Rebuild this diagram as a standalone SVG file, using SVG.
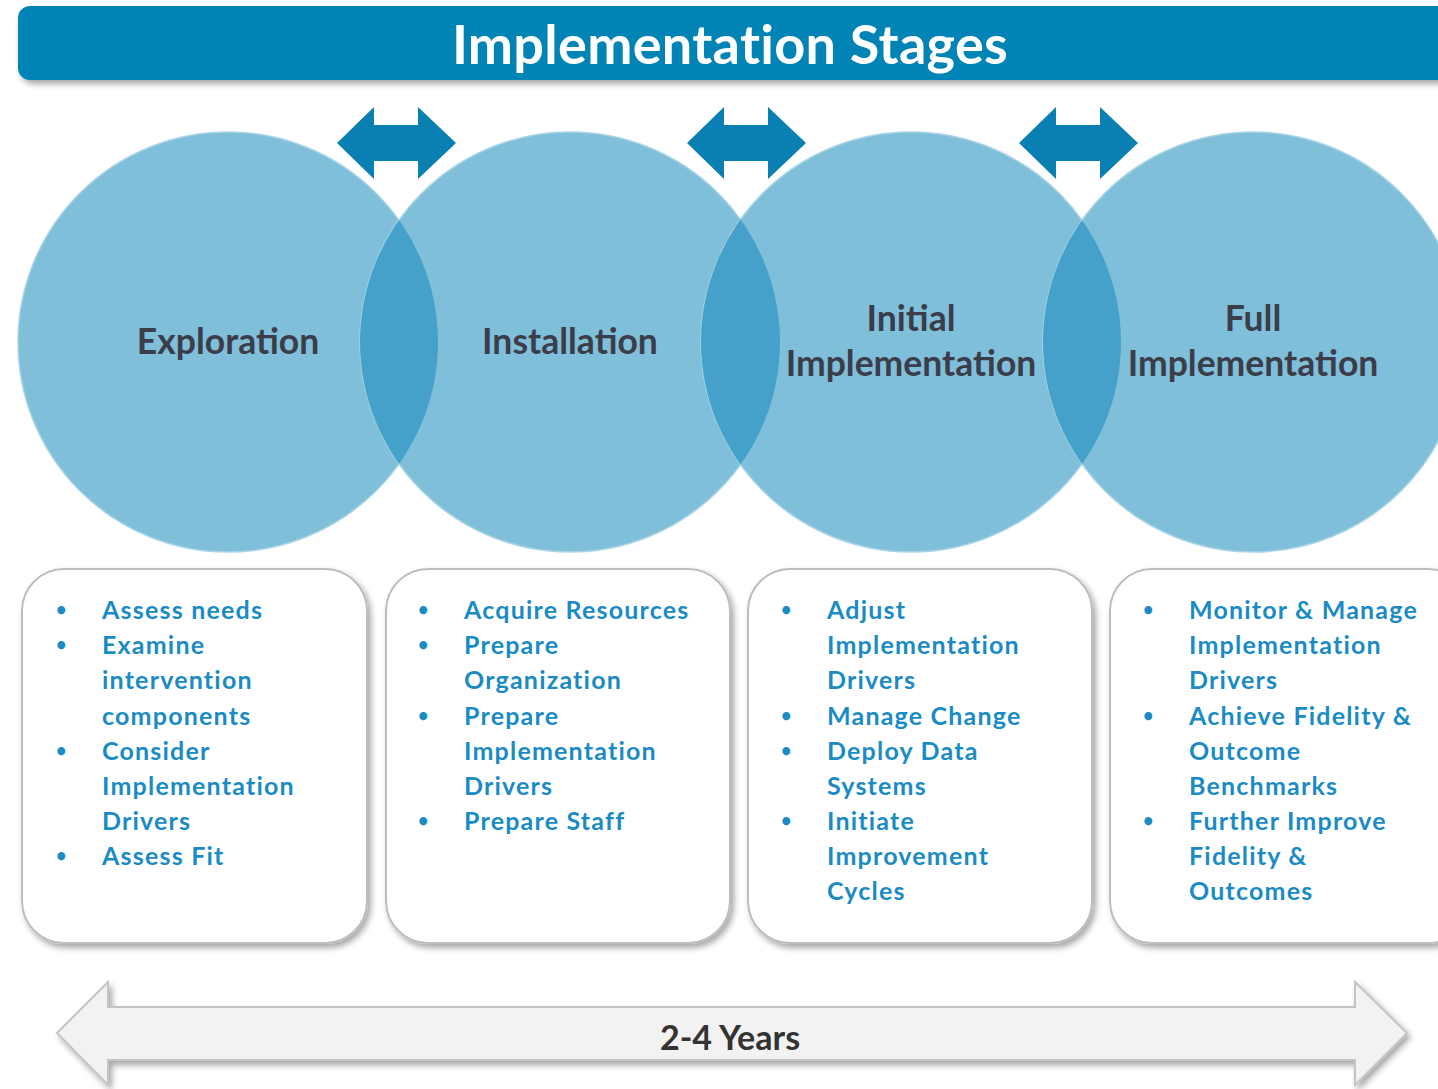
<svg xmlns="http://www.w3.org/2000/svg" width="1438" height="1089" viewBox="0 0 1438 1089">
<defs>
<style>
.hdr{font-family:Lato,"Open Sans",sans-serif;font-weight:bold;font-size:54px;fill:#ffffff;letter-spacing:0.3px}
.clab{font-family:Lato,"Open Sans",sans-serif;font-weight:bold;font-size:35.5px;fill:#3b3d4a;text-anchor:middle}
.item{font-family:Lato,"Open Sans",sans-serif;font-weight:bold;font-size:25px;fill:#1a8bc3;letter-spacing:1.2px}
.bul{font-family:Lato,"Open Sans",sans-serif;font-weight:bold;font-size:18px;fill:#1a8bc3}
.yrs{font-family:Lato,"Open Sans",sans-serif;font-weight:bold;font-size:34px;fill:#333333;text-anchor:middle}
.circ{fill:#80bfd9;stroke:#a8d4e6;stroke-width:1.5}
.lens{fill:#45a1ca}
.dbl{fill:#0a80b2}
.box{fill:#ffffff;stroke:#bdbdbd;stroke-width:2}
</style>
<filter id="sh" x="-10%" y="-10%" width="130%" height="130%">
<feGaussianBlur in="SourceAlpha" stdDeviation="3"/>
<feOffset dx="3" dy="4" result="b"/>
<feComponentTransfer><feFuncA type="linear" slope="0.35"/></feComponentTransfer>
<feMerge><feMergeNode/><feMergeNode in="SourceGraphic"/></feMerge>
</filter>
<clipPath id="c1"><circle cx="228" cy="342" r="210"/></clipPath>
<clipPath id="c2"><circle cx="570" cy="342" r="210"/></clipPath>
<clipPath id="c3"><circle cx="911" cy="342" r="210"/></clipPath>
<path id="dblarrow" d="M0,36 L37,0 L37,18 L81,18 L81,0 L119,36 L81,72 L81,54 L37,54 L37,72 Z"/>
</defs>
<rect width="1438" height="1089" fill="#ffffff"/>

<g id="header">
<rect x="18" y="6" width="1440" height="74" rx="12" fill="#0083b5" filter="url(#sh)"/>
<text class="hdr" x="730" y="64" text-anchor="middle">Implementation Stages</text>
</g>

<g id="circles">
<g id="exploration">
<circle class="circ" cx="228" cy="342" r="210"/>
</g>
<g id="installation">
<circle class="circ" cx="570" cy="342" r="210"/>
</g>
<g id="initial">
<circle class="circ" cx="911" cy="342" r="210"/>
</g>
<g id="full">
<circle class="circ" cx="1253" cy="342" r="210"/>
</g>
<circle class="lens" cx="570" cy="342" r="210" clip-path="url(#c1)"/>
<circle class="lens" cx="911" cy="342" r="210" clip-path="url(#c2)"/>
<circle class="lens" cx="1253" cy="342" r="210" clip-path="url(#c3)"/>
<text class="clab" x="228" y="354">Exploration</text>
<text class="clab" x="570" y="354">Installation</text>
<text class="clab" x="911" y="331">Initial</text>
<text class="clab" x="911" y="376">Implementation</text>
<text class="clab" x="1253" y="331">Full</text>
<text class="clab" x="1253" y="376">Implementation</text>
</g>

<g id="connectors">
<use href="#dblarrow" class="dbl" x="337" y="107"/>
<use href="#dblarrow" class="dbl" x="687" y="107"/>
<use href="#dblarrow" class="dbl" x="1019" y="107"/>
</g>

<g id="box1">
<rect class="box" x="22" y="569" width="345" height="374" rx="42" filter="url(#sh)"/>
<g class="bul">
<text x="56" y="616">•</text><text x="56" y="651">•</text><text x="56" y="757">•</text><text x="56" y="862">•</text>
</g>
<g class="item">
<text x="102" y="619">Assess needs</text>
<text x="102" y="654">Examine</text>
<text x="102" y="689">intervention</text>
<text x="102" y="725">components</text>
<text x="102" y="760">Consider</text>
<text x="102" y="795">Implementation</text>
<text x="102" y="830">Drivers</text>
<text x="102" y="865">Assess Fit</text>
</g>
</g>

<g id="box2">
<rect class="box" x="386" y="569" width="344" height="374" rx="42" filter="url(#sh)"/>
<g class="bul">
<text x="418" y="616">•</text><text x="418" y="651">•</text><text x="418" y="722">•</text><text x="418" y="827">•</text>
</g>
<g class="item">
<text x="464" y="619">Acquire Resources</text>
<text x="464" y="654">Prepare</text>
<text x="464" y="689">Organization</text>
<text x="464" y="725">Prepare</text>
<text x="464" y="760">Implementation</text>
<text x="464" y="795">Drivers</text>
<text x="464" y="830">Prepare Staff</text>
</g>
</g>

<g id="box3">
<rect class="box" x="748" y="569" width="344" height="374" rx="42" filter="url(#sh)"/>
<g class="bul">
<text x="781" y="616">•</text><text x="781" y="722">•</text><text x="781" y="757">•</text><text x="781" y="827">•</text>
</g>
<g class="item">
<text x="827" y="619">Adjust</text>
<text x="827" y="654">Implementation</text>
<text x="827" y="689">Drivers</text>
<text x="827" y="725">Manage Change</text>
<text x="827" y="760">Deploy Data</text>
<text x="827" y="795">Systems</text>
<text x="827" y="830">Initiate</text>
<text x="827" y="865">Improvement</text>
<text x="827" y="900">Cycles</text>
</g>
</g>

<g id="box4">
<rect class="box" x="1110" y="569" width="360" height="374" rx="42" filter="url(#sh)"/>
<g class="bul">
<text x="1143" y="616">•</text><text x="1143" y="722">•</text><text x="1143" y="827">•</text>
</g>
<g class="item">
<text x="1189" y="619">Monitor &amp; Manage</text>
<text x="1189" y="654">Implementation</text>
<text x="1189" y="689">Drivers</text>
<text x="1189" y="725">Achieve Fidelity &amp;</text>
<text x="1189" y="760">Outcome</text>
<text x="1189" y="795">Benchmarks</text>
<text x="1189" y="830">Further Improve</text>
<text x="1189" y="865">Fidelity &amp;</text>
<text x="1189" y="900">Outcomes</text>
</g>
</g>

<g id="timeline">
<path d="M57,1033 L108,982 L108,1007 L1355,1007 L1355,982 L1407,1033 L1355,1085 L1355,1060 L108,1060 L108,1085 Z" fill="#f2f2f2" stroke="#c4c4c4" stroke-width="2" filter="url(#sh)"/>
<text class="yrs" x="730" y="1050">2-4 Years</text>
</g>
</svg>
